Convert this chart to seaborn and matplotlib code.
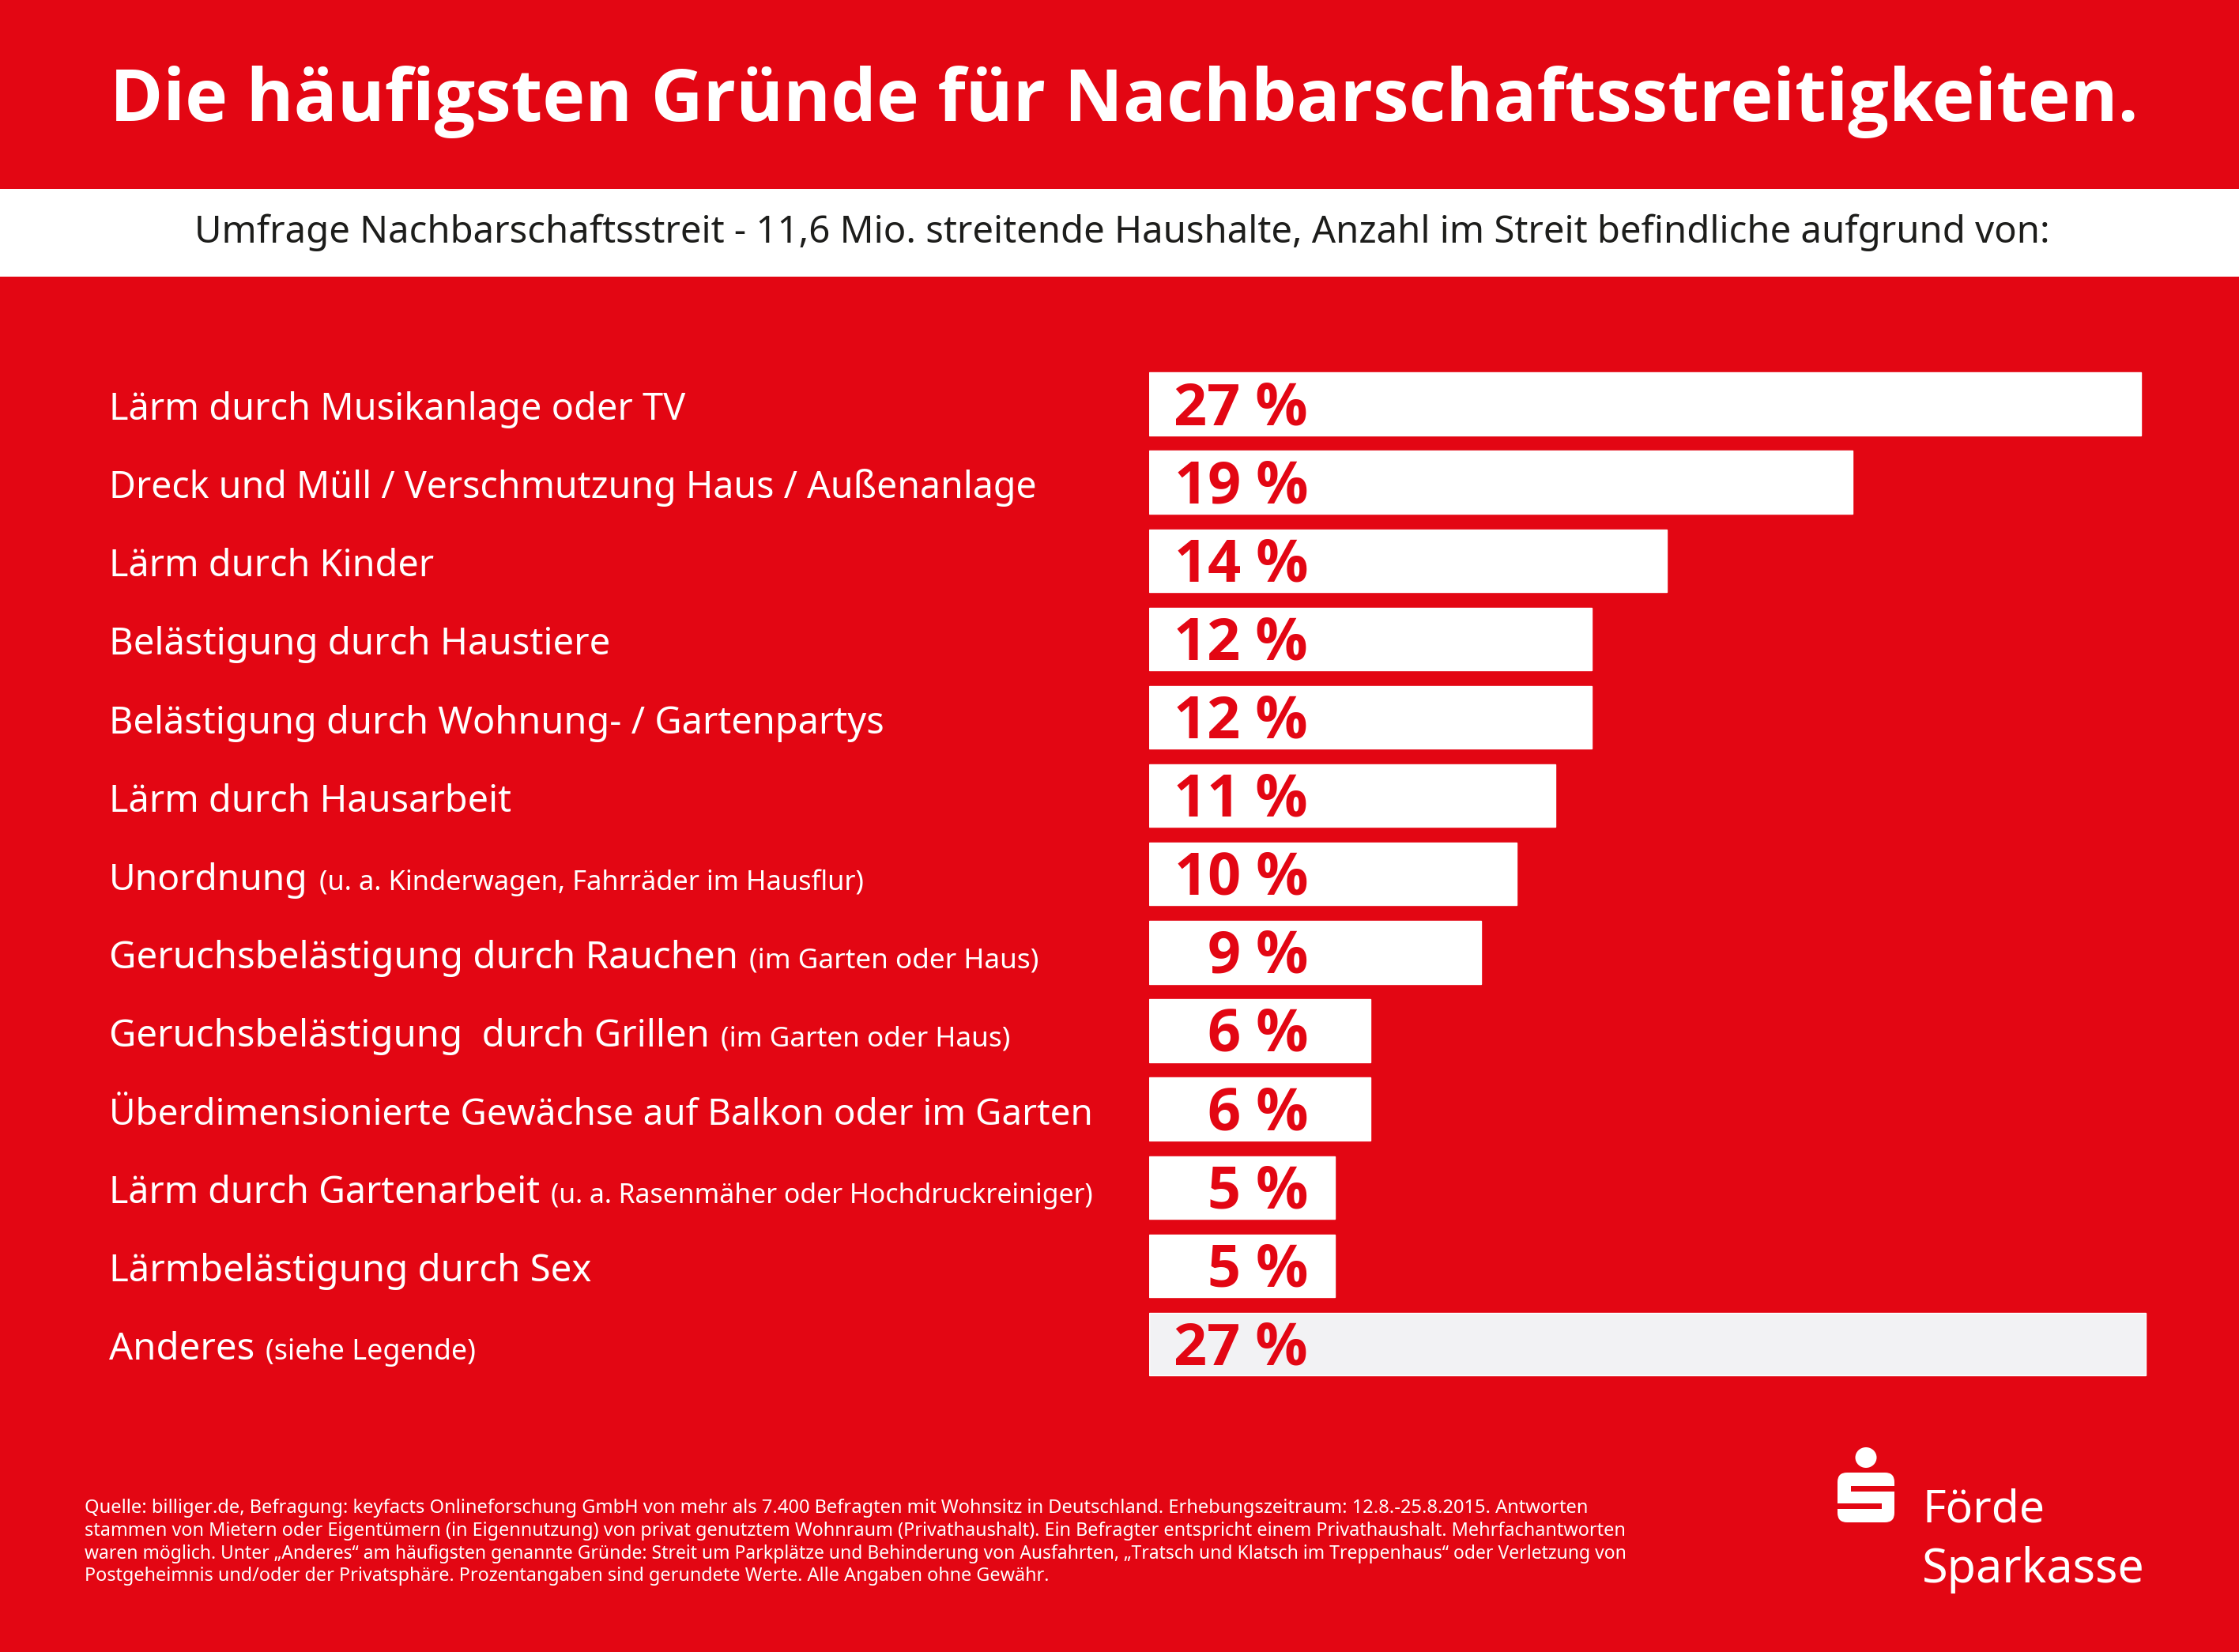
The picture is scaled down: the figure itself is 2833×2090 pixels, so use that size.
import matplotlib
matplotlib.use("Agg")
import matplotlib.pyplot as plt
from matplotlib.patches import Rectangle, FancyBboxPatch, Ellipse
import pandas as pd
import seaborn as sns

reasons = [
    "Lärm durch Musikanlage oder TV",
    "Dreck und Müll / Verschmutzung Haus / Außenanlage",
    "Lärm durch Kinder",
    "Belästigung durch Haustiere",
    "Belästigung durch Wohnung- / Gartenpartys",
    "Lärm durch Hausarbeit",
    "Unordnung",
    "Geruchsbelästigung durch Rauchen",
    "Geruchsbelästigung  durch Grillen",
    "Überdimensionierte Gewächse auf Balkon oder im Garten",
    "Lärm durch Gartenarbeit",
    "Lärmbelästigung durch Sex",
    "Anderes",
]
notes = ["", "", "", "", "", "",
         "(u. a. Kinderwagen, Fahrräder im Hausflur)",
         "(im Garten oder Haus)",
         "(im Garten oder Haus)",
         "",
         "(u. a. Rasenmäher oder Hochdruckreiniger)",
         "",
         "(siehe Legende)"]
percent = [27, 19, 14, 12, 12, 11, 10, 9, 6, 6, 5, 5, 27]
bar_lengths = [27, 19.14, 14.09, 12.04, 12.04, 11.05, 10, 9.03, 6.02, 6.02, 5.05, 5.05, 27.11]
WHITE, GREY, RED, INK = "#FFFFFF", "#F2F2F4", "#E30613", "#1D1D1B"
bar_colors = [WHITE] * 12 + [GREY]

title = "Die häufigsten Gründe für Nachbarschaftsstreitigkeiten."
subtitle = "Umfrage Nachbarschaftsstreit - 11,6 Mio. streitende Haushalte, Anzahl im Streit befindliche aufgrund von:"
footer = [
    "Quelle: billiger.de, Befragung: keyfacts Onlineforschung GmbH von mehr als 7.400 Befragten mit Wohnsitz in Deutschland. Erhebungszeitraum: 12.8.-25.8.2015. Antworten",
    "stammen von Mietern oder Eigentümern (in Eigennutzung) von privat genutztem Wohnraum (Privathaushalt). Ein Befragter entspricht einem Privathaushalt. Mehrfachantworten",
    "waren möglich. Unter „Anderes“ am häufigsten genannte Gründe: Streit um Parkplätze und Behinderung von Ausfahrten, „Tratsch und Klatsch im Treppenhaus“ oder Verletzung von",
    "Postgeheimnis und/oder der Privatsphäre. Prozentangaben sind gerundete Werte. Alle Angaben ohne Gewähr.",
]
footer_widths = [1904, 1946, 1943, 1219]
footer_bases = [1914, 1943, 1972, 2000]
label_widths = [728, 1172, 410, 634, 980, 508, 252, 796, 760, 1244, 545, 610, 184]
note_widths = [0, 0, 0, 0, 0, 0, 692, 367, 367, 0, 687, 0, 267]

W, H = 2833, 2090
sns.set_theme(style="white", rc={"axes.facecolor": "none", "figure.facecolor": RED})
plt.rcParams["font.family"] = ["Noto Sans", "DejaVu Sans"]
BOLD = ["Open Sans", "DejaVu Sans"]

fig = plt.figure(figsize=(W / 100, H / 100), dpi=100, facecolor=RED)
renderer = fig.canvas.get_renderer()

# overlay in pixel coordinates for the page furniture
ov = fig.add_axes([0, 0, 1, 1], zorder=0)
ov.set_xlim(0, W)
ov.set_ylim(H, 0)
ov.axis("off")
ov.add_patch(Rectangle((0, 239), W, 111, facecolor=WHITE, edgecolor="none"))


def scale_to(t, width):
    t.set_fontsize(t.get_fontsize() * width / t.get_window_extent(renderer).width)


def fitted(x, y, text, width, size, **kw):
    t = ov.text(x, y, text, fontsize=size, va="baseline", ha="left", **kw)
    scale_to(t, width)
    return t


fitted(139, 153, title, 2566, 70, color=WHITE, fontweight="bold", family=BOLD)
fitted(246, 307, subtitle, 2350, 35, color=INK)

# footer
for line, base, width in zip(footer, footer_bases, footer_widths):
    fitted(107, base, line, width, 17, color=WHITE)

# logo
ov.add_patch(Ellipse((2361, 1844), 27, 26, facecolor=WHITE, edgecolor="none"))
ov.add_patch(FancyBboxPatch((2337, 1875), 48, 39, boxstyle="round,pad=12,rounding_size=12",
                            facecolor=WHITE, edgecolor="none"))
ov.add_patch(Rectangle((2342, 1880), 56, 7, facecolor=RED, edgecolor="none"))
ov.add_patch(Rectangle((2324, 1902), 57, 7, facecolor=RED, edgecolor="none"))
fitted(2432, 2002, "Sparkasse", 282, 44, color=WHITE)
fitted(2432, 1926, "Förde", 155, 44, color=WHITE)

# the chart
PX_PER_UNIT = 46.5
left, right = 1454, 2770
pitch = 99.1
top = 511 - pitch / 2
bottom = 1700.5 + pitch / 2
ax = fig.add_axes([left / W, 1 - bottom / H, (right - left) / W, (bottom - top) / H], zorder=2)
df = pd.DataFrame({"reason": reasons, "length": bar_lengths})
sns.barplot(data=df, y="reason", x="length", hue="reason", palette=bar_colors, legend=False,
            width=0.80, saturation=1, dodge=False, ax=ax)
ax.set_xlim(0, (right - left) / PX_PER_UNIT)
ax.set_ylim(12.5, -0.5)
ax.set_xlabel("")
ax.set_ylabel("")
ax.xaxis.set_visible(False)
sns.despine(ax=ax, left=True, bottom=True)

BASE_DROP = 20
pad_pts = (left - 138) * 72 / 100
ax.tick_params(axis="y", length=0, pad=pad_pts, labelsize=32, labelcolor=WHITE)
offset = matplotlib.transforms.ScaledTranslation(0, -BASE_DROP / 100, fig.dpi_scale_trans)
for lab in ax.get_yticklabels():
    lab.set_ha("left")
    lab.set_va("baseline")
    lab.set_transform(lab.get_transform() + offset)

fig.canvas.draw()
labs = ax.get_yticklabels()
for i, (note, pct) in enumerate(zip(notes, percent)):
    scale_to(labs[i], label_widths[i])
    if note:
        x1 = labs[i].get_window_extent(renderer).x1
        n = ax.annotate(note, xy=(0, i), xycoords=("axes fraction", "data"),
                        xytext=(x1 + 14 - left, -BASE_DROP), textcoords="offset pixels",
                        fontsize=24, color=WHITE, ha="left", va="baseline")
        scale_to(n, note_widths[i])
    ax.annotate(f"{pct} %", xy=(0, i), xycoords=("axes fraction", "data"),
                xytext=(201, -26), textcoords="offset pixels", family=BOLD,
                fontsize=53, fontweight="bold", color=RED, ha="right", va="baseline")

fig.savefig("out.png", dpi=100, facecolor=RED)
